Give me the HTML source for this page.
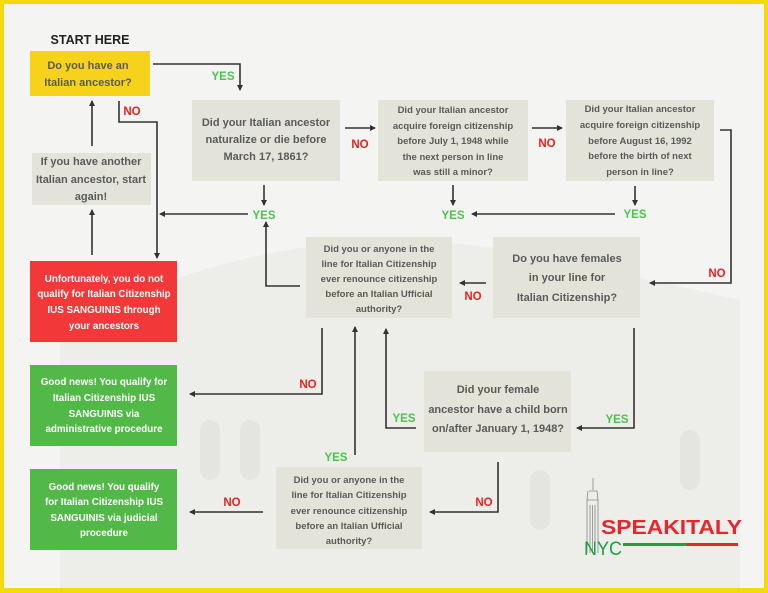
<!DOCTYPE html>
<html><head><meta charset="utf-8"><style>
html,body{margin:0;padding:0;}
body{width:768px;height:593px;overflow:hidden;background:#f5f5f3;}
svg{display:block;font-family:"Liberation Sans",sans-serif;font-weight:bold;}
</style></head><body>
<svg width="768" height="593" viewBox="0 0 768 593" xmlns="http://www.w3.org/2000/svg">
<defs>
<marker id="a" markerWidth="6" markerHeight="6" refX="5" refY="3" orient="auto" markerUnits="userSpaceOnUse"><path d="M0,0 L6,3 L0,6 z" fill="#333"/></marker>
</defs>
<rect x="0" y="0" width="768" height="593" fill="#f6d80f"/>
<rect x="4" y="4" width="760" height="584" fill="#f4f4f2"/>
<!-- faint colosseum -->
<path d="M60,588 L60,330 Q300,200 560,260 L740,300 L740,588 z" fill="#e8e8e5" opacity="0.6"/>
<g fill="#dcdcd8" opacity="0.5">
<rect x="200" y="420" width="20" height="60" rx="10"/><rect x="240" y="420" width="20" height="60" rx="10"/><rect x="530" y="470" width="20" height="60" rx="10"/><rect x="680" y="430" width="20" height="60" rx="10"/>
</g>
<text x="90" y="44" font-size="12.5" fill="#222" text-anchor="middle">START HERE</text>
<!-- boxes -->
<rect x="30" y="51" width="120" height="45" fill="#f6d21a"/>
<rect x="32" y="153" width="119" height="52" fill="#e3e3da"/>
<rect x="30" y="261" width="147" height="81" fill="#f23838"/>
<rect x="30" y="365" width="147" height="81" fill="#52b848"/>
<rect x="30" y="469" width="147" height="81" fill="#52b848"/>
<rect x="192" y="100" width="148" height="81" fill="#e3e3da"/>
<rect x="378" y="100" width="150" height="81" fill="#e3e3da"/>
<rect x="566" y="100" width="148" height="81" fill="#e3e3da"/>
<rect x="493" y="237" width="147" height="81" fill="#e3e3da"/>
<rect x="306" y="237" width="146" height="81" fill="#e3e3da"/>
<rect x="424" y="371" width="147" height="81" fill="#e3e3da"/>
<rect x="276" y="467" width="146" height="82" fill="#e3e3da"/>
<!-- box text -->
<g fill="#5a5a5a" text-anchor="middle" font-size="11">
<text x="88" y="69">Do you have an</text><text x="88" y="86">Italian ancestor?</text>
<text x="91" y="165">If you have another</text><text x="91" y="183">Italian ancestor, start</text><text x="91" y="200">again!</text>
<text x="266" y="126">Did your Italian ancestor</text><text x="266" y="143">naturalize or die before</text><text x="266" y="160">March 17, 1861?</text>
<text x="567" y="262">Do you have females</text><text x="567" y="281">in your line for</text><text x="567" y="301">Italian Citizenship?</text>
<text x="498" y="393">Did your female</text><text x="498" y="413">ancestor have a child born</text><text x="498" y="432">on/after January 1, 1948?</text>
</g>
<g fill="#5a5a5a" text-anchor="middle" font-size="9.5">
<text x="453" y="113">Did your Italian ancestor</text><text x="453" y="129">acquire foreign citizenship</text><text x="453" y="144">before July 1, 1948 while</text><text x="453" y="160">the next person in line</text><text x="453" y="175">was still a minor?</text>
<text x="640" y="112">Did your Italian ancestor</text><text x="640" y="128">acquire foreign citizenship</text><text x="640" y="144">before August 16, 1992</text><text x="640" y="159">before the birth of next</text><text x="640" y="175">person in line?</text>
<text x="379" y="252">Did you or anyone in the</text><text x="379" y="267">line for Italian Citizenship</text><text x="379" y="282">ever renounce citizenship</text><text x="379" y="297">before an Italian Ufficial</text><text x="379" y="312">authority?</text>
<text x="349" y="483">Did you or anyone in the</text><text x="349" y="498">line for Italian Citizenship</text><text x="349" y="514">ever renounce citizenship</text><text x="349" y="529">before an Italian Ufficial</text><text x="349" y="544">authority?</text>
</g>
<g fill="#fff" text-anchor="middle" font-size="9.8">
<text x="104" y="282">Unfortunately, you do not</text><text x="104" y="297">qualify for Italian Citizenship</text><text x="104" y="313">IUS SANGUINIS through</text><text x="104" y="329">your ancestors</text>
<text x="104" y="385">Good news! You qualify for</text><text x="104" y="401">Italian Citizenship IUS</text><text x="104" y="417">SANGUINIS via</text><text x="104" y="432">administrative procedure</text>
<text x="104" y="490">Good news! You qualify</text><text x="104" y="505">for Italian Citizenship IUS</text><text x="104" y="521">SANGUINIS via judicial</text><text x="104" y="536">procedure</text>
</g>
<!-- connectors -->
<g stroke="#333" stroke-width="1.6" fill="none" marker-end="url(#a)">
<path d="M153,64 H240 V90"/>
<path d="M119,101 V122 H157 V258"/>
<path d="M92,255 V210"/>
<path d="M92,146 V101"/>
<path d="M264,185 V205"/>
<path d="M248,214 H160"/>
<path d="M453,185 V205"/>
<path d="M615,214 H472"/>
<path d="M635,186 V205"/>
<path d="M345,128 H375"/>
<path d="M532,128 H562"/>
<path d="M720,130 H731 V283 H650"/>
<path d="M486,283 H460"/>
<path d="M300,286 H266 V222"/>
<path d="M322,328 V394 H190"/>
<path d="M355,455 V327"/>
<path d="M416,428 H386 V329"/>
<path d="M634,328 V428 H577"/>
<path d="M498,462 V512 H430"/>
<path d="M263,512 H190"/>
</g>
<!-- labels -->
<g font-size="11.5" text-anchor="middle">
<g fill="#4cc44c">
<text x="223" y="80">YES</text><text x="264" y="219">YES</text><text x="453" y="219">YES</text><text x="635" y="218">YES</text>
<text x="336" y="461">YES</text><text x="404" y="422">YES</text><text x="617" y="423">YES</text>
</g>
<g fill="#ee2020">
<text x="132" y="115">NO</text><text x="360" y="148">NO</text><text x="547" y="147">NO</text><text x="717" y="277">NO</text>
<text x="473" y="300">NO</text><text x="308" y="388">NO</text><text x="484" y="506">NO</text><text x="232" y="506">NO</text>
</g>
</g>
<!-- logo -->
<g fill="none" stroke="#888" stroke-width="0.8">
<path d="M593,478 V490 M589,491 H597 L598,500 V553 M588,491 L587,500 V553 M587,500 H598"/>
<path d="M590,505 V553 M592.5,505 V553 M595,505 V553"/>
</g>
<text x="601" y="534" font-size="20" fill="#e5272d" textLength="141" lengthAdjust="spacingAndGlyphs">SPEAKITALY</text>
<text x="584" y="555" font-size="19" font-weight="normal" fill="#1f9d47" textLength="38" lengthAdjust="spacingAndGlyphs">NYC</text>
<rect x="623" y="543" width="64" height="3" fill="#1f9d47"/>
<rect x="687" y="543" width="51" height="3" fill="#e5272d"/>
</svg>
</body></html>
